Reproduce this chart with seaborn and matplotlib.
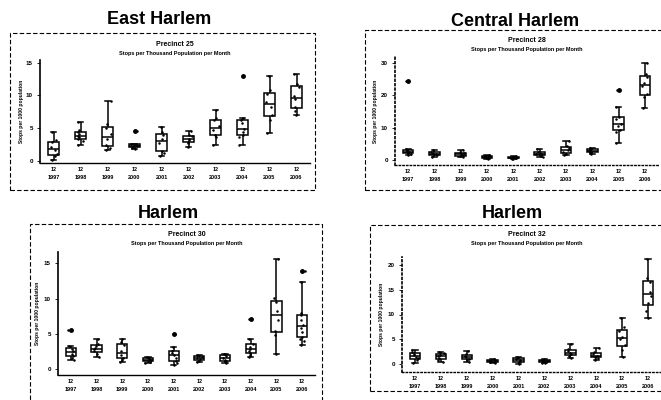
import matplotlib
matplotlib.use("Agg")
import matplotlib.pyplot as plt
from matplotlib.patches import Rectangle
import seaborn as sns
import pandas as pd

# years on the x axis, and the number of months behind each box
years = ['1997', '1998', '1999', '2000', '2001', '2002', '2003', '2004', '2005', '2006']
months = ['12'] * 10

# stops per thousand population per month (one list per year)
east_harlem = [
    [0.2, 0.8, 1.0, 1.7, 2.1, 2.9, 3.2, 4.5],
    [2.4, 3.1, 3.3, 3.6, 3.8, 4.1, 4.4, 4.7, 5.9],
    [1.7, 2.0, 2.4, 3.3, 4.1, 5.0, 5.6, 9.2],
    [1.9, 2.0, 2.2, 2.3, 2.4, 2.5, 2.6, 4.6],
    [0.7, 1.3, 1.6, 2.7, 3.3, 4.0, 4.4, 5.2],
    [2.2, 2.7, 2.9, 3.2, 3.4, 3.8, 4.0, 4.6],
    [2.4, 3.6, 4.0, 4.8, 5.3, 6.2, 6.6, 7.8],
    [2.4, 3.6, 3.9, 4.5, 4.9, 5.8, 6.2, 6.5, 12.9],
    [4.3, 6.3, 7.0, 8.3, 9.0, 10.2, 10.8, 13.0],
    [7.0, 7.7, 8.2, 9.4, 9.9, 11.3, 11.8, 13.2],
]
central_harlem = [
    [1.5, 1.9, 2.2, 2.5, 2.8, 3.1, 3.6, 24.4],
    [1.0, 1.5, 1.8, 2.0, 2.3, 2.6, 3.0],
    [1.0, 1.2, 1.5, 1.8, 2.1, 2.4, 3.1],
    [0.5, 0.7, 0.9, 1.0, 1.2, 1.4, 1.5],
    [0.4, 0.5, 0.7, 0.8, 0.9, 1.1, 1.2],
    [1.0, 1.4, 1.8, 2.0, 2.3, 2.6, 3.6],
    [1.5, 2.0, 2.5, 3.2, 3.8, 4.3, 6.0],
    [2.0, 2.3, 2.6, 2.9, 3.2, 3.5, 3.7],
    [5.2, 8.6, 9.3, 10.6, 11.2, 12.7, 13.2, 16.5, 21.6],
    [16.0, 19.4, 20.5, 22.8, 23.8, 25.6, 26.7, 29.9],
]
harlem_30 = [
    [1.3, 1.5, 1.9, 2.2, 2.5, 2.9, 3.2, 5.5],
    [1.7, 2.2, 2.5, 2.8, 3.0, 3.3, 3.6, 4.3],
    [1.0, 1.3, 1.6, 2.0, 2.6, 3.4, 3.8, 4.3],
    [0.9, 1.0, 1.2, 1.3, 1.4, 1.6, 1.7],
    [0.6, 0.9, 1.2, 1.6, 2.0, 2.3, 2.6, 3.1, 5.0],
    [1.0, 1.2, 1.4, 1.5, 1.7, 1.9, 2.0],
    [0.9, 1.1, 1.3, 1.6, 1.8, 2.1, 2.2],
    [1.7, 2.0, 2.3, 2.6, 2.8, 3.1, 3.5, 4.2, 7.1],
    [2.1, 4.8, 5.4, 7.0, 8.2, 9.5, 10.1, 15.6],
    [3.4, 4.0, 4.3, 4.6, 5.3, 5.8, 6.3, 6.9, 7.6, 8.0, 12.3, 13.9],
]
harlem_32 = [
    [0.2, 0.8, 1.2, 1.5, 1.8, 2.1, 2.5, 2.9],
    [0.5, 0.9, 1.3, 1.6, 1.9, 2.2, 2.5],
    [0.5, 0.8, 1.1, 1.4, 1.7, 2.0, 2.7],
    [0.2, 0.4, 0.5, 0.6, 0.7, 0.9, 1.0],
    [0.1, 0.4, 0.6, 0.9, 1.1, 1.3, 1.5],
    [0.2, 0.3, 0.5, 0.6, 0.7, 0.9, 1.0],
    [1.2, 1.6, 2.0, 2.3, 2.6, 3.0, 4.1],
    [0.9, 1.2, 1.5, 1.7, 2.0, 2.4, 3.2],
    [1.5, 2.9, 3.8, 5.0, 5.4, 6.6, 7.5, 9.2],
    [9.2, 10.8, 12.3, 13.8, 14.6, 16.5, 17.3, 21.2],
]

W, H = 661, 400
font = 'Liberation Sans'
plt.rcParams['font.family'] = [font, 'DejaVu Sans']
plt.rcParams['font.weight'] = 'bold'

fig = plt.figure(figsize=(W / 100, H / 100), dpi=100)


def rect(l, t, r, b):
    return [l / W, 1 - b / H, (r - l) / W, (b - t) / H]


def long_df(vals):
    rows = [(y, v) for y, vs in zip(years, vals) for v in vs]
    return pd.DataFrame(rows, columns=['year', 'value'])


# layout for each panel, in pixels
panels = [
    dict(name='East Harlem', sub='Precinct 25', vals=east_harlem,
         ax=(40, 60, 310, 163), ylim=(-0.3, 15.4), ticks=[0, 5, 10, 15],
         title_xy=(159, 19), sub_xy=(175, 44), frame=(10, 33, 315, 190),
         ylab_x=21, dotted=False),
    dict(name='Central Harlem', sub='Precinct 28', vals=central_harlem,
         ax=(395, 57, 658, 165), ylim=(-1.5, 31.9), ticks=[0, 10, 20, 30],
         title_xy=(515, 21), sub_xy=(527, 41), frame=(365, 30, 668, 190),
         ylab_x=376, dotted=True),
    dict(name='Harlem', sub='Precinct 30', vals=harlem_30,
         ax=(58, 252, 315, 375), ylim=(-0.85, 16.6), ticks=[0, 5, 10, 15],
         title_xy=(168, 213), sub_xy=(187, 235), frame=(30, 224, 322, 410),
         ylab_x=38, dotted=False),
    dict(name='Harlem', sub='Precinct 32', vals=harlem_32,
         ax=(402, 257, 661, 372), ylim=(-1.6, 21.6), ticks=[0, 5, 10, 15, 20],
         title_xy=(512, 214), sub_xy=(527, 235), frame=(370, 225, 668, 391),
         ylab_x=382, dotted=True),
]

for p in panels:
    l, t, r, b = p['frame']
    fig.add_artist(Rectangle((l / W, 1 - b / H), (r - l) / W, (b - t) / H,
                             transform=fig.transFigure, fill=False,
                             edgecolor='black', lw=0.8, ls=(0, (4, 2))))
    fig.text(p['title_xy'][0] / W, 1 - p['title_xy'][1] / H, p['name'],
             ha='center', va='center', fontsize=13, fontweight='bold')
    fig.text(p['sub_xy'][0] / W, 1 - p['sub_xy'][1] / H, p['sub'],
             ha='center', va='center', fontsize=5, fontweight='bold')
    fig.text(p['sub_xy'][0] / W, 1 - (p['sub_xy'][1] + 9) / H,
             'Stops per Thousand Population per Month',
             ha='center', va='center', fontsize=4, fontweight='bold')

    ax = fig.add_axes(rect(*p['ax']))
    df = long_df(p['vals'])
    sns.boxplot(data=df, x='year', y='value', ax=ax, color='white',
                linecolor='black', linewidth=1.1, width=0.4,
                flierprops=dict(marker='o', markerfacecolor='black',
                                markeredgecolor='black', markersize=2.5))
    sns.stripplot(data=df, x='year', y='value', ax=ax, color='black',
                  size=1.8, jitter=0.12)
    ax.set_xlim(-0.5, 9.5)
    ax.set_ylim(*p['ylim'])
    ax.set_yticks(p['ticks'])
    ax.set_yticklabels([str(v) for v in p['ticks']], fontsize=4.5, fontweight='bold')
    ax.set_xticks(range(len(years)))
    ax.set_xticklabels([f'{m}\n{y}' for m, y in zip(months, years)],
                       fontsize=4, fontweight='bold', linespacing=1.6)
    ax.tick_params(axis='x', length=0, pad=3)
    ax.tick_params(axis='y', length=2, width=0.6, pad=3)
    ax.set_xlabel('')
    ax.set_ylabel('')
    ax.set_facecolor('none')
    for s in ['top', 'right']:
        ax.spines[s].set_visible(False)
    ls = ':' if p['dotted'] else '-'
    ax.spines['left'].set_linestyle(ls)
    ax.spines['bottom'].set_linestyle(ls)
    ax.spines['left'].set_linewidth(1.2)
    ax.spines['bottom'].set_linewidth(1.0)
    yc = (p['ax'][1] + p['ax'][3]) / 2
    fig.text(p['ylab_x'] / W, 1 - yc / H, 'Stops per 1000 population',
             rotation=90, ha='center', va='center', fontsize=3.6, fontweight='bold')

fig.savefig('out.png', dpi=100)
